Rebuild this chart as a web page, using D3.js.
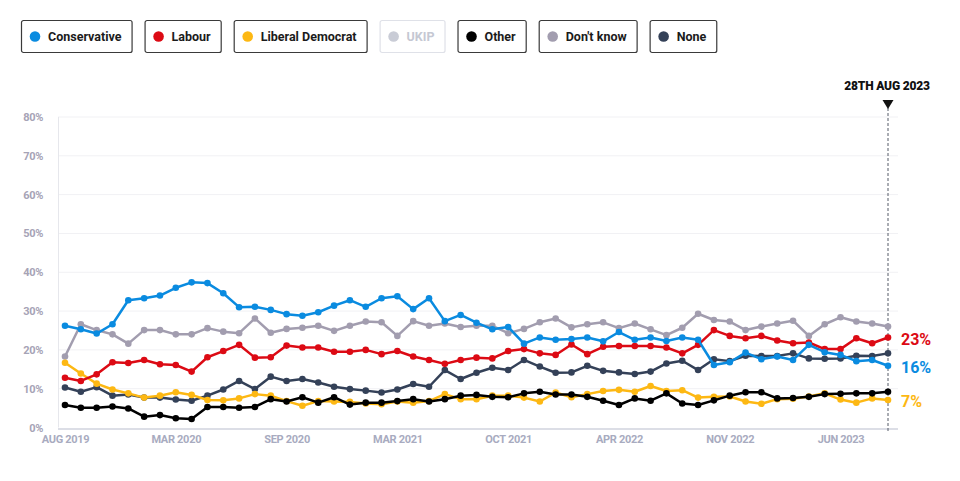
<!DOCTYPE html>
<html>
<head>
<meta charset="utf-8">
<script src="https://cdn.jsdelivr.net/npm/d3@7"></script>
<style>
  html, body { margin: 0; padding: 0; background: #fff; }
  svg { display: block; font-family: Roboto, "Liberation Sans", sans-serif; }
</style>
</head>
<body>
<svg id="chart" width="960" height="481"></svg>
<script>
// ---- DATA ----
const pollDates = [
  "2019-08-27","2019-09-24","2019-10-22","2019-11-19","2019-12-17","2020-01-14","2020-02-11","2020-03-10",
  "2020-04-07","2020-05-05","2020-06-02","2020-06-30","2020-07-28","2020-08-25","2020-09-22","2020-10-20",
  "2020-11-17","2020-12-15","2021-01-05","2021-02-02","2021-02-23","2021-03-23","2021-04-20","2021-05-18",
  "2021-06-15","2021-07-13","2021-08-10","2021-09-07","2021-10-05","2021-11-02","2021-11-30","2021-12-21",
  "2022-01-18","2022-02-15","2022-03-15","2022-04-12","2022-05-10","2022-06-07","2022-07-05","2022-08-02",
  "2022-08-30","2022-09-27","2022-11-01","2022-11-29","2022-12-20","2023-01-17","2023-02-14","2023-03-21",
  "2023-04-25","2023-06-06","2023-07-04","2023-08-01","2023-08-28"
];
const xTickDates = ["2019-08-27","2020-03-10","2020-09-22","2021-03-23","2021-10-05","2022-04-12","2022-11-01","2023-06-06"];
const yTicks = [0, 10, 20, 30, 40, 50, 60, 70, 80];

const conservative = [26.2,25.3,24.2,26.6,32.8,33.3,34.0,36.0,37.4,37.2,34.6,31.0,31.1,30.3,29.2,28.8,29.7,31.4,32.8,31.1,33.3,33.8,30.5,33.3,27.4,29.0,27.0,25.3,25.9,21.6,23.2,22.6,22.8,23.2,22.2,24.6,22.6,23.2,22.3,23.2,22.6,16.1,16.8,19.3,17.6,18.3,17.4,21.3,19.4,18.7,17.1,17.4,15.9];
const labour       = [12.8,12.0,13.7,16.8,16.6,17.4,16.3,16.1,14.4,18.1,19.7,21.3,18.0,18.1,21.1,20.6,20.6,19.5,19.5,20.0,18.9,19.7,18.3,17.4,16.4,17.4,18.0,17.8,19.7,20.2,19.1,18.7,21.4,18.9,20.8,21.0,21.0,21.0,20.6,19.1,21.3,25.1,23.6,23.0,23.6,22.4,21.7,21.9,20.2,20.2,23.0,21.7,23.2];
const libDem       = [16.7,13.9,11.3,9.8,8.8,7.7,8.2,9.1,8.4,7.1,7.0,7.5,8.6,8.2,6.8,5.6,6.8,6.7,6.6,6.2,6.0,6.7,6.4,6.8,8.6,7.3,7.3,8.2,8.2,7.7,6.7,9.0,7.8,8.6,9.4,9.7,9.2,10.7,9.4,9.6,7.7,7.9,8.0,6.7,6.1,7.3,7.4,8.0,8.8,7.2,6.4,7.5,7.1];
const other        = [5.8,5.1,5.1,5.4,4.9,2.8,3.2,2.4,2.2,5.3,5.3,5.1,5.3,7.3,6.7,7.8,6.4,7.8,5.9,6.4,6.4,6.8,7.3,6.7,7.3,8.2,8.4,7.9,7.8,8.8,9.2,8.5,8.5,7.9,6.9,5.8,7.5,6.9,8.8,6.2,5.8,7.0,8.2,9.1,9.1,7.5,7.6,7.9,8.6,8.7,8.8,8.8,9.2];
const dontKnow     = [18.3,26.6,25.1,24.0,21.6,25.1,25.1,24.0,24.0,25.6,24.7,24.3,28.1,24.4,25.4,25.7,26.2,24.9,26.2,27.3,27.1,23.6,27.4,26.2,26.8,25.9,26.2,26.2,24.3,25.4,27.1,28.1,25.8,26.6,27.1,25.6,26.8,25.3,23.8,25.7,29.3,27.7,27.3,25.1,26.0,26.8,27.5,23.6,26.6,28.4,27.3,26.8,26.0];
const none         = [10.3,9.2,10.4,8.2,8.5,7.7,7.7,7.2,6.9,8.2,9.8,12.0,9.9,13.1,12.0,12.5,11.6,10.5,9.9,9.5,9.0,9.8,11.2,10.5,14.8,12.5,14.1,15.4,14.8,17.4,15.7,14.1,14.2,15.9,14.6,14.2,13.8,14.4,16.5,17.2,14.8,17.6,17.1,18.5,18.4,18.4,19.1,17.8,17.7,17.8,18.5,18.4,19.1];

const legendNames  = ["Conservative","Labour","Liberal Democrat","UKIP","Other","Don't know","None"];
const legendColors = ["#0a8be0","#dc0a14","#fdb813","#c9ccd6","#000000","#a29daf","#344158"];
const legendActive = [true,true,true,false,true,true,true];

const series = [
  {name:"Don't know", values: dontKnow, color:"#a29daf"},
  {name:"None", values: none, color:"#344158"},
  {name:"Liberal Democrat", values: libDem, color:"#fdb813", label:true},
  {name:"Other", values: other, color:"#000000"},
  {name:"Labour", values: labour, color:"#dc0a14", label:true},
  {name:"Conservative", values: conservative, color:"#0a8be0", label:true}
];

// ---- CHART ----
const svg = d3.select("#chart");
const parse = d3.timeParse("%Y-%m-%d");
const fmtTick = d => d3.timeFormat("%b %Y")(parse(d)).toUpperCase();

const x = d3.scalePoint().domain(pollDates).range([65, 888]);
const y = d3.scaleLinear().domain([0, 80]).range([427.5, 117]);

// gridlines
svg.append("g").selectAll("line").data(yTicks.filter(d => d > 0)).join("line")
  .attr("x1", 58).attr("x2", 898)
  .attr("y1", d => y(d)).attr("y2", d => y(d))
  .attr("stroke", "#f1f1f4").attr("stroke-width", 1);

// left axis line
svg.append("line").attr("x1", 58.5).attr("x2", 58.5).attr("y1", y(80)).attr("y2", y(0))
  .attr("stroke", "#e6e7ec").attr("stroke-width", 1);

// y axis labels
const yAxis = d3.axisLeft(y).tickValues(yTicks).tickFormat(d => d + "%").tickSize(0).tickPadding(0);
const gy = svg.append("g").attr("transform", "translate(43,0)").call(yAxis);
gy.select(".domain").remove();
gy.selectAll("text").attr("fill", "#a6a3b6").attr("font-size", 11).attr("font-weight", 700)
  .attr("font-family", "Roboto, sans-serif").attr("letter-spacing", "-0.3px");

// bottom axis
const xAxis = d3.axisBottom(x).tickValues(xTickDates).tickFormat(fmtTick).tickSize(0).tickPadding(0);
const gx = svg.append("g").attr("transform", "translate(0,435)").call(xAxis);
gx.select(".domain").remove();
gx.selectAll("text").attr("fill", "#a8abc0").attr("font-size", 11).attr("font-weight", 700)
  .attr("font-family", "Roboto, sans-serif").attr("letter-spacing", "-0.3px");
svg.append("line").attr("x1", 58).attr("x2", 898).attr("y1", 429).attr("y2", 429)
  .attr("stroke", "#dcdee6").attr("stroke-width", 2);

// marker line
const mx = x(pollDates[pollDates.length-1]);
svg.append("line").attr("x1", mx).attr("x2", mx)
  .attr("y1", 108).attr("y2", 433).attr("stroke", "#555a66").attr("stroke-width", 1)
  .attr("stroke-dasharray", "3,2");
svg.append("path").attr("d", `M${mx-5.5},100 L${mx+5.5},100 L${mx},109 Z`).attr("fill", "#111");
svg.append("text").attr("x", mx - 1).attr("y", 90).attr("text-anchor", "middle")
  .attr("font-size", 12).attr("font-weight", 900).attr("fill", "#111").attr("letter-spacing", "-0.2px")
  .text("28TH " + fmtTick(pollDates[pollDates.length-1]));

// lines
const line = d3.line().x((d, i) => x(pollDates[i])).y(d => y(d));
const gl = svg.append("g");
series.forEach(s => {
  const g = gl.append("g");
  g.append("path").datum(s.values).attr("d", line).attr("fill", "none")
    .attr("stroke", s.color).attr("stroke-width", 2.5).attr("stroke-linejoin", "round");
  g.selectAll("circle").data(s.values).join("circle")
    .attr("cx", (d, i) => x(pollDates[i])).attr("cy", d => y(d)).attr("r", 3.3)
    .attr("fill", s.color);
});

// end labels
series.filter(s => s.label).forEach(s => {
  const v = s.values[s.values.length - 1];
  svg.append("text").attr("x", 901).attr("y", y(v) + 1).attr("dy", "0.38em")
    .attr("font-size", 16).attr("font-weight", 700).attr("fill", s.color)
    .text(Math.round(v) + "%");
});

// legend
const lg = svg.append("g");
let lx = 21;
legendNames.forEach((n, i) => {
  const g = lg.append("g").attr("transform", `translate(${lx},20)`);
  const rect = g.append("rect").attr("x", 0.5).attr("y", 0.5).attr("height", 32).attr("rx", 2)
    .attr("fill", "#fff").attr("stroke", legendActive[i] ? "#3a3a3a" : "#dfe1e8").attr("stroke-width", 1.2);
  g.append("circle").attr("cx", 14).attr("cy", 16.5).attr("r", 5.3).attr("fill", legendColors[i]);
  const t = g.append("text").attr("x", 27).attr("y", 21).attr("font-size", 12.5).attr("font-weight", 700)
    .attr("fill", legendActive[i] ? "#1b1b1b" : "#c5c8d3").attr("letter-spacing", "0px").text(n);
  const w = t.node().getComputedTextLength() + 27 + 10;
  rect.attr("width", w);
  lx += w + 13;
});
</script>
</body>
</html>
